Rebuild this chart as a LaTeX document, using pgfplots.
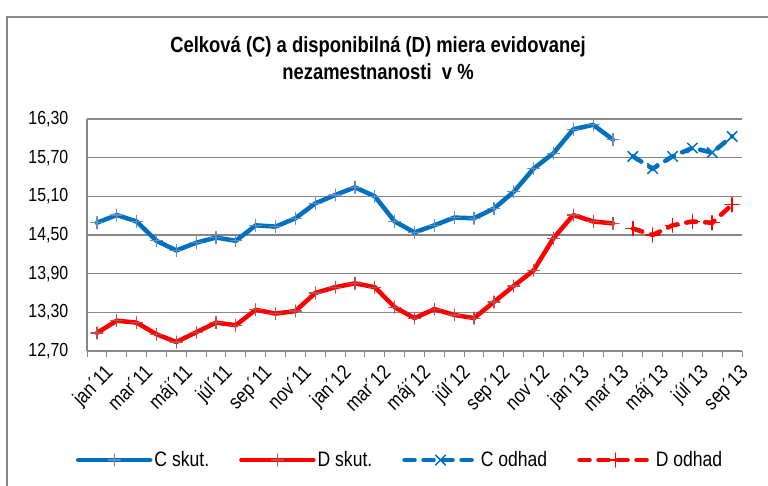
\documentclass[border=0pt]{standalone}
\usepackage{pgfplots}
\pgfplotsset{compat=1.18}
\usepackage{fontspec}
\setmainfont{Liberation Sans}[FakeStretch=0.84]
\definecolor{cblue}{RGB}{0,112,192}
\definecolor{cblmk}{RGB}{100,140,190}
\definecolor{dredmk}{RGB}{185,80,80}
\definecolor{gridg}{RGB}{134,134,134}

\pgfplotstableread{
x C D
0 14.69 12.98
1 14.81 13.17
2 14.71 13.14
3 14.41 12.96
4 14.26 12.84
5 14.38 12.99
6 14.46 13.14
7 14.41 13.10
8 14.65 13.34
9 14.63 13.28
10 14.76 13.32
11 14.99 13.60
12 15.12 13.69
13 15.24 13.75
14 15.10 13.69
15 14.71 13.38
16 14.54 13.21
17 14.65 13.35
18 14.77 13.26
19 14.76 13.21
20 14.91 13.46
21 15.17 13.71
22 15.53 13.95
23 15.77 14.45
24 16.14 14.81
25 16.21 14.71
26 15.98 14.68
}\skut
\pgfplotstableread{
x C D
27 15.72 14.60
28 15.53 14.50
29 15.72 14.65
30 15.85 14.71
31 15.78 14.69
32 16.03 14.97
}\odhad

\begin{document}
\begin{tikzpicture}[x=1bp,y=1bp]
\useasboundingbox (0,0) rectangle (768,486);
\draw[gridg, line width=1.2bp] (7,-5) -- (7,469) -- (780,469);
\node[font=\bfseries\fontsize{22}{27}\selectfont, align=center] at (378,428)
  {Celková (C) a disponibilná (D) miera evidovanej\\nezamestnanosti \ v \%};
\begin{axis}[
  at={(87bp,135bp)}, anchor=south west,
  scale only axis, width=655bp, height=232bp,
  xmin=-0.5, xmax=32.5, ymin=12.7, ymax=16.3,
  axis x line*=bottom, axis y line*=left,
  axis line style={gridg, line width=1.2bp, -},
  ytick={12.7,13.3,13.9,14.5,15.1,15.7,16.3},
  ymajorgrids, major grid style={gridg, line width=1.2bp},
  y tick style={draw=none},
  yticklabel style={font=\fontsize{19}{21}\selectfont, xshift=-11bp},
  /pgf/number format/.cd, fixed, fixed zerofill, precision=2, use comma, assume math mode=true,
  /pgfplots/.cd,
  xtick={0,2,...,32},
  xticklabels={jan´11,mar´11,máj´11,júl´11,sep´11,nov´11,jan´12,mar´12,máj´12,júl´12,sep´12,nov´12,jan´13,mar´13,máj´13,júl´13,sep´13},
  x tick style={draw=none},
  minor xtick={-0.5,0.5,...,32.5},
  minor x tick style={draw=gridg, line width=1bp},
  minor tick length=6bp, tick align=outside,
  xticklabel style={font=\fontsize{20.5}{22}\selectfont, rotate=45, anchor=north east, inner sep=1bp, yshift=-9bp},
  legend columns=4,
  legend style={at={(0.478,-0.47)}, anchor=center, draw=none, fill=none,
    font=\fontsize{21}{23}\selectfont, /tikz/every even column/.append style={column sep=28bp}},
  legend image code/.code={\draw[mark repeat=2,mark phase=2,#1] plot coordinates {(0bp,0bp) (36bp,0bp) (72bp,0bp)};},
  clip=false,
]
\addplot[cblue, line width=4.5bp, line join=round, line cap=round, mark=+, mark size=6bp,
  mark options={cblmk, line width=1.2bp, solid}] table[x=x,y=C] {\skut};
\addlegendentry{C skut.}
\addplot[red, line width=4.5bp, line join=round, line cap=round, mark=+, mark size=6bp,
  mark options={dredmk, line width=1.2bp, solid}] table[x=x,y=D] {\skut};
\addlegendentry{D skut.}
\addplot[cblue, line width=4.5bp, line cap=round, dash pattern=on 10bp off 9bp, mark=x, mark size=7bp,
  mark options={cblue, line width=1.5bp, solid}] table[x=x,y=C] {\odhad};
\addlegendentry{C odhad}
\addplot[red, line width=4.5bp, line cap=round, dash pattern=on 10bp off 9bp, mark=+, mark size=7bp,
  mark options={red, line width=1.5bp, solid}] table[x=x,y=D] {\odhad};
\addlegendentry{D odhad}
\end{axis}
\end{tikzpicture}
\end{document}
